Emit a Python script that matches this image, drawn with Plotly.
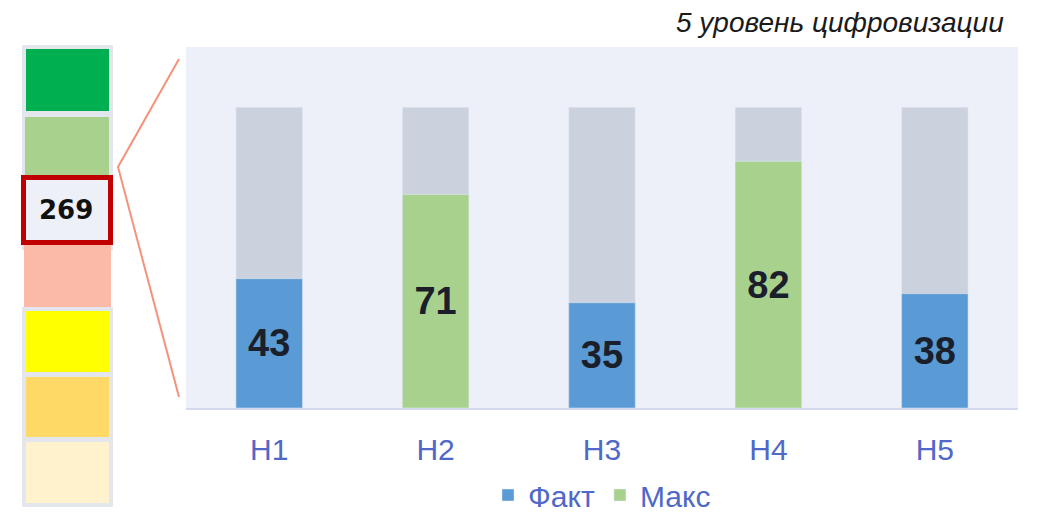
import plotly.graph_objects as go

categories = ["H1", "H2", "H3", "H4", "H5"]
fact_values = [43, None, 35, None, 38]
max_values = [None, 71, None, 82, None]
full_values = [100, 100, 100, 100, 100]
title_text = "5 уровень цифровизации"
scale_colors = ["#00B050", "#A9D18E", "#EEF0F7", "#FBB9A8", "#FFFF00", "#FFD966", "#FFF2CC"]

OFF = 8  # page offset of the figure
W, H = 1037, 504
L, R, T, B = 178, 27, 39, 104
PW, PH = W - L - R, H - T - B


def px(x):
    return (x - OFF - L) / PW


def py(y):
    return (H - B - (y - OFF)) / PH


total = sum(v for v in fact_values + max_values if v is not None)

fig = go.Figure()
fig.add_bar(x=categories, y=full_values, marker_color="#CBD2DE", width=0.4,
            showlegend=False, hoverinfo="skip")
label_font = dict(size=38, color="#1A1F2B", family="Liberation Sans, Arial", weight="bold")
fig.add_bar(x=categories, y=fact_values, name="Факт", marker_color="#5B9BD5", width=0.4,
            text=fact_values, textposition="inside", insidetextanchor="middle",
            textfont=label_font)
fig.add_bar(x=categories, y=max_values, name="Макс", marker_color="#A9D18E", width=0.4,
            text=max_values, textposition="inside", insidetextanchor="middle",
            textfont=label_font)

shapes = []
# outer gray frames of scale
shapes.append(dict(type="rect", xref="paper", yref="paper", x0=px(22), x1=px(113), y0=py(45), y1=py(250),
                   fillcolor="#E3E6ED", line_width=0, layer="above"))
shapes.append(dict(type="rect", xref="paper", yref="paper", x0=px(22), x1=px(113), y0=py(307), y1=py(507),
                   fillcolor="#E3E6ED", line_width=0, layer="above"))
boxes = [(26, 109, 49, 111), (25, 109, 117, 175), (21, 113, 175, 245), (24, 111, 245, 307),
         (26, 109, 311, 372), (26, 109, 377, 437), (26, 109, 442, 503)]
for i, (c, (x0, x1, y0, y1)) in enumerate(zip(scale_colors, boxes)):
    if i == 2:
        shapes.append(dict(type="rect", xref="paper", yref="paper", x0=px(x0 + 2.5), x1=px(x1 - 2.5),
                           y0=py(y0 + 2.5), y1=py(y1 - 2.5), fillcolor=c,
                           line=dict(color="#C00000", width=5), layer="above"))
    else:
        shapes.append(dict(type="rect", xref="paper", yref="paper", x0=px(x0), x1=px(x1), y0=py(y0), y1=py(y1),
                           fillcolor=c, line_width=0, layer="above"))
# connector lines
shapes.append(dict(type="path", xref="paper", yref="paper",
                   path=f"M {px(179)} {py(59)} L {px(118)} {py(167)} L {px(179)} {py(397)}",
                   line=dict(color="#F4937A", width=2), layer="above"))

fig.update_layout(
    width=W, height=H,
    margin=dict(l=L, r=R, t=T, b=B, autoexpand=False),
    paper_bgcolor="white",
    plot_bgcolor="#EDF0F8",
    barmode="overlay",
    font=dict(family="Liberation Sans, Arial", color="#5068C8"),
    shapes=shapes,
    legend=dict(orientation="h", x=0.5, xanchor="center", y=py(495), yanchor="middle",
                font=dict(size=30, color="#5068C8"), itemwidth=30, traceorder="normal"),
    annotations=[
        dict(text=str(total), xref="paper", yref="paper", x=px(66), y=py(210),
             xanchor="center", yanchor="middle", showarrow=False,
             font=dict(size=26, color="#111111", family="DejaVu Sans", weight="bold")),
        dict(text=f"<i>{title_text}</i>", xref="paper", yref="paper", x=px(1006), y=py(22),
             xanchor="right", yanchor="middle", showarrow=False,
             font=dict(size=28, color="#1a1a1a", family="Liberation Sans, Arial")),
    ],
)
fig.update_xaxes(range=[-0.5, 4.5], showline=True, linecolor="#D3D9EE", linewidth=2,
                 showgrid=False, ticks="outside", ticklen=14, tickcolor="rgba(0,0,0,0)",
                 tickfont=dict(size=30, color="#5068C8"))
fig.update_yaxes(range=[0, 120], showgrid=False, showticklabels=False, zeroline=False)

fig.write_html("out.html")
